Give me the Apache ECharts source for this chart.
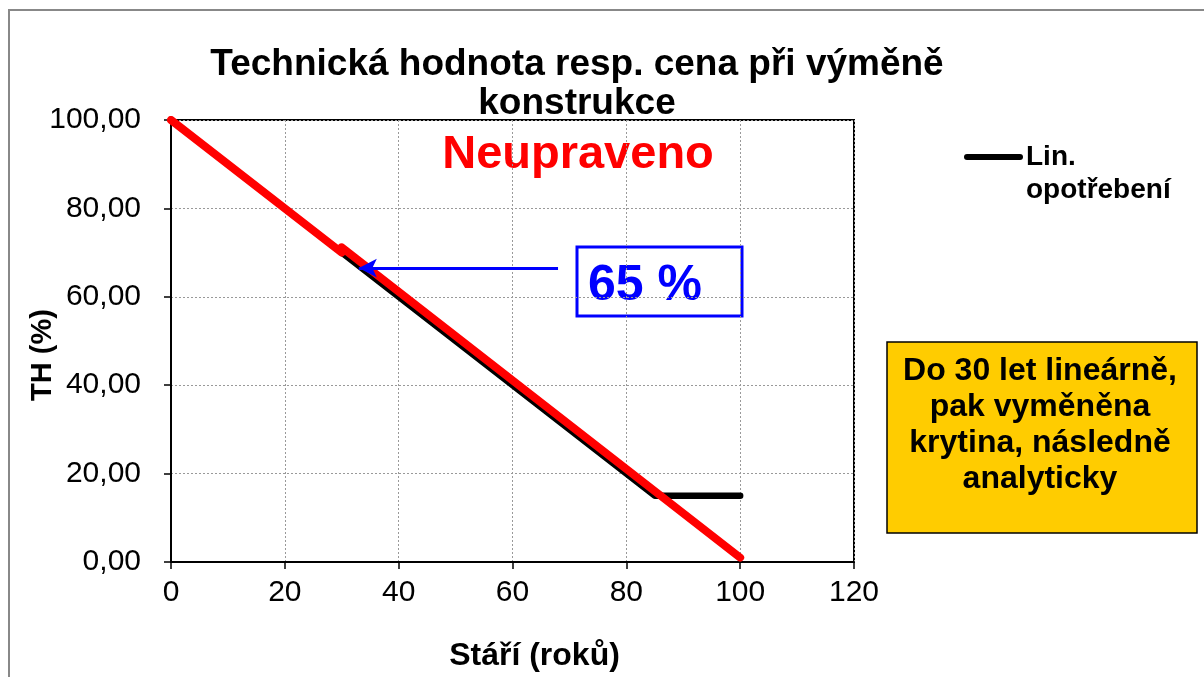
<!DOCTYPE html>
<html>
<head>
<meta charset="utf-8">
<script src="https://cdn.jsdelivr.net/npm/echarts@6/dist/echarts.min.js"></script>
<style>
  html, body { margin: 0; padding: 0; background: #fff; }
  #chart { width: 1204px; height: 677px; }
</style>
</head>
<body>
<div id="chart"></div>
<script>
// stáří (roky) / TH (%)
const linAge = [0, 85, 100]
const linValue = [100, 15, 15]
const adjAge = [0, 30, 30, 100]
const adjValue = [100, 70, 71.2, 1]
const xTicks = [0, 20, 40, 60, 80, 100, 120]
const yTicks = [0, 20, 40, 60, 80, 100]
// šipka k bodu 65 %
const arrowFrom = [68, 66.5]
const arrowTo = [33, 66.5]

const font = '"Liberation Sans", Arial, sans-serif'

const chart = echarts.init(document.getElementById('chart'))

chart.setOption({
  animation: false,
  backgroundColor: '#fff',
  grid: {
    left: 171,
    right: 350,
    top: 120,
    bottom: 114,
    show: true,
    borderColor: '#000',
    borderWidth: 2
  },
  xAxis: {
    type: 'value',
    min: xTicks[0],
    max: xTicks[xTicks.length - 1],
    interval: 20,
    name: 'Stáří (roků)',
    nameLocation: 'middle',
    nameGap: 78,
    nameTextStyle: {
      fontFamily: font, fontWeight: 'bold', fontSize: 32, color: '#000',
      padding: [0, 0, 0, 44]
    },
    axisLine: { show: true, lineStyle: { color: '#000', width: 2 } },
    axisTick: { show: true, length: 7, lineStyle: { color: '#000', width: 1.5 } },
    axisLabel: { fontFamily: font, fontSize: 30, color: '#000', margin: 16 },
    splitLine: { show: true, lineStyle: { color: '#999', type: [2, 2], width: 1 } }
  },
  yAxis: {
    type: 'value',
    min: yTicks[0],
    max: yTicks[yTicks.length - 1],
    interval: 20,
    name: 'TH (%)',
    nameLocation: 'middle',
    nameGap: 114,
    nameMoveOverlap: false,
    nameTextStyle: {
      fontFamily: font, fontWeight: 'bold', fontSize: 29, color: '#000',
      padding: [0, 28, 0, 0]
    },
    axisLine: { show: true, lineStyle: { color: '#000', width: 2 } },
    axisTick: { show: true, length: 7, lineStyle: { color: '#000', width: 1.5 } },
    axisLabel: {
      fontFamily: font, fontSize: 30, color: '#000', margin: 30,
      formatter: v => v.toFixed(2).replace('.', ',')
    },
    splitLine: { show: true, lineStyle: { color: '#999', type: [2, 2], width: 1 } }
  },
  series: [
    {
      name: 'Lin. opotřebení',
      type: 'line',
      data: linAge.map((a, i) => [a, linValue[i]]),
      showSymbol: false,
      lineStyle: { color: '#000', width: 6.5, cap: 'round', join: 'round' },
      z: 2
    },
    {
      name: 'Neupraveno',
      type: 'line',
      data: adjAge.map((a, i) => [a, adjValue[i]]),
      showSymbol: false,
      lineStyle: { color: '#ff0000', width: 8, cap: 'round', join: 'round' },
      z: 3,
      markLine: {
        silent: true,
        symbol: ['none', 'arrow'],
        symbolSize: [14, 18],
        label: { show: false },
        lineStyle: { color: '#0000ff', width: 3, type: 'solid' },
        data: [[{ coord: arrowFrom }, { coord: arrowTo }]]
      }
    }
  ],
  graphic: [
    // rámeček grafu
    {
      type: 'rect', silent: true, z: -1,
      shape: { x: 9, y: 10, width: 1300, height: 700 },
      style: { fill: 'none', stroke: '#888', lineWidth: 2 }
    },
    {
      type: 'text', x: 577, y: 45,
      style: {
        text: 'Technická hodnota resp. cena při výměně\nkonstrukce',
        font: 'bold 37px ' + font, fill: '#000', align: 'center', lineHeight: 39
      }
    },
    {
      type: 'text', x: 578, y: 155,
      style: { text: 'Neupraveno', font: 'bold 47px ' + font, fill: '#ff0000', align: 'center', verticalAlign: 'middle' }
    },
    // legenda
    {
      type: 'line',
      shape: { x1: 967, y1: 157, x2: 1020, y2: 157 },
      style: { stroke: '#000', lineWidth: 6, lineCap: 'round' }
    },
    {
      type: 'text', x: 1026, y: 141,
      style: { text: 'Lin.\nopotřebení', font: 'bold 28px ' + font, fill: '#000', lineHeight: 33 }
    },
    // 65 %
    {
      type: 'rect',
      shape: { x: 577, y: 247, width: 165, height: 69 },
      style: { fill: '#fff', stroke: '#0000ff', lineWidth: 3 }
    },
    {
      type: 'text', x: 645, y: 286,
      style: { text: '65 %', font: 'bold 50px ' + font, fill: '#0000ff', align: 'center', verticalAlign: 'middle' }
    },
    // poznámka
    {
      type: 'rect',
      shape: { x: 887, y: 342, width: 310, height: 191 },
      style: { fill: '#ffcc00', stroke: '#000', lineWidth: 1.5 }
    },
    {
      type: 'text', x: 1040, y: 425,
      style: {
        text: 'Do 30 let lineárně,\npak vyměněna\nkrytina, následně\nanalyticky',
        font: 'bold 32px ' + font, fill: '#000', align: 'center', verticalAlign: 'middle', lineHeight: 36
      }
    }
  ]
})
</script>
</body>
</html>
